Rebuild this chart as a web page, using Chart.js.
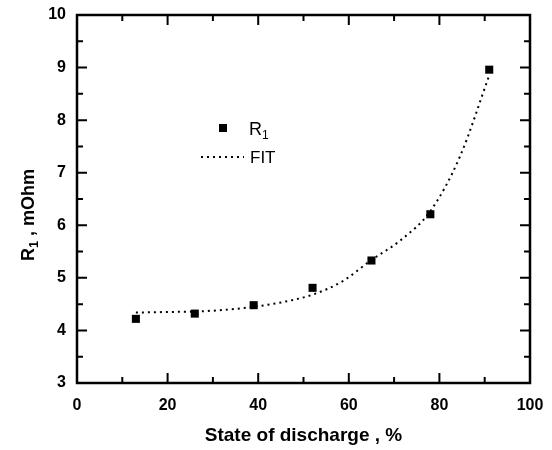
<!DOCTYPE html>
<html>
<head>
<meta charset="utf-8">
<script src="https://cdn.jsdelivr.net/npm/chart.js@4.4.1/dist/chart.umd.min.js"></script>
<style>
  html, body { margin: 0; padding: 0; background: #fff; }
  #wrap { width: 552px; height: 450px; }
</style>
</head>
<body>
<div id="wrap"><canvas id="r1Chart" width="552" height="450"></canvas></div>
<script>
// measured R1 vs state of discharge
const sod = [13, 26, 39, 52, 65, 78, 91];
const r1 = [4.22, 4.32, 4.48, 4.81, 5.33, 6.21, 8.96];

// fitted curve, read at regular steps
const fitX = [13, 19.5, 26, 32.5, 39, 45.5, 52, 58.5, 65, 71.5, 78, 84.5, 91];
const fitY = [4.34, 4.35, 4.36, 4.39, 4.45, 4.54, 4.68, 4.93, 5.34, 5.72, 6.27, 7.30, 8.85];

const xTicks = [0, 20, 40, 60, 80, 100];
const yTicks = [3, 4, 5, 6, 7, 8, 9, 10];

const FONT = '"Liberation Sans", Arial, sans-serif';

// frame with inward ticks on all four sides, plus the inner legend
const frame = {
  id: 'frame',
  afterDraw(chart) {
    const { ctx, chartArea: a, scales: { x, y } } = chart;
    ctx.save();
    ctx.strokeStyle = '#000';
    ctx.lineWidth = 2.5;
    ctx.strokeRect(a.left, a.top, a.right - a.left, a.bottom - a.top);

    ctx.lineWidth = 2;
    ctx.beginPath();
    for (let v = 10; v < 100; v += 10) {
      const px = x.getPixelForValue(v);
      const len = v % 20 === 0 ? 10 : 6;
      ctx.moveTo(px, a.bottom); ctx.lineTo(px, a.bottom - len);
      ctx.moveTo(px, a.top); ctx.lineTo(px, a.top + len);
    }
    for (let v = 3.5; v < 10; v += 0.5) {
      const py = y.getPixelForValue(v);
      const len = v % 1 === 0 ? 10 : 6;
      ctx.moveTo(a.left, py); ctx.lineTo(a.left + len, py);
      ctx.moveTo(a.right, py); ctx.lineTo(a.right - len, py);
    }
    ctx.stroke();

    // legend
    ctx.fillStyle = '#000';
    ctx.fillRect(219, 124, 8, 8);
    ctx.font = '18px ' + FONT;
    ctx.textBaseline = 'alphabetic';
    ctx.fillText('R', 249, 135);
    ctx.font = '12px ' + FONT;
    ctx.fillText('1', 262, 139);
    ctx.setLineDash([2, 4]);
    ctx.lineWidth = 2;
    ctx.beginPath();
    ctx.moveTo(201, 157); ctx.lineTo(244, 157);
    ctx.stroke();
    ctx.setLineDash([]);
    ctx.font = '17px ' + FONT;
    ctx.fillText('FIT', 250, 163);

    // axis titles
    ctx.font = 'bold 19px ' + FONT;
    ctx.textAlign = 'center';
    ctx.fillText('State of discharge , %', (a.left + a.right) / 2, 441);

    ctx.translate(34, 215);
    ctx.rotate(-Math.PI / 2);
    ctx.textAlign = 'left';
    const parts = [['R', 18, 0], ['1', 13, 4], [' , mOhm', 18, 0]];
    let w = 0;
    parts.forEach(([t, s]) => { ctx.font = 'bold ' + s + 'px ' + FONT; w += ctx.measureText(t).width; });
    let cx = -w / 2;
    parts.forEach(([t, s, dy]) => {
      ctx.font = 'bold ' + s + 'px ' + FONT;
      ctx.fillText(t, cx, dy);
      cx += ctx.measureText(t).width;
    });
    ctx.restore();
  }
};

// keep tick-label overhang from shrinking the plot box
const noOverhang = s => {
  s.paddingTop = 0; s.paddingBottom = 0;
  s.paddingLeft = 0; s.paddingRight = 0;
};

new Chart(document.getElementById('r1Chart'), {
  type: 'scatter',
  data: {
    datasets: [{
      label: 'R1',
      data: sod.map((v, i) => ({ x: v, y: r1[i] })),
      pointStyle: 'rect',
      pointRadius: 5.7,
      backgroundColor: '#000',
      borderColor: '#000',
      borderWidth: 0,
      order: 0
    }, {
      label: 'FIT',
      type: 'line',
      data: fitX.map((v, i) => ({ x: v, y: fitY[i] })),
      borderColor: '#000',
      borderWidth: 2,
      borderDash: [2, 4],
      pointRadius: 0,
      cubicInterpolationMode: 'monotone',
      fill: false,
      order: 1
    }]
  },
  options: {
    responsive: false,
    animation: false,
    events: [],
    layout: { padding: { left: 0, top: 15, right: 22, bottom: 0 } },
    plugins: { legend: { display: false }, tooltip: { enabled: false } },
    scales: {
      x: {
        type: 'linear',
        min: 0, max: 100,
        afterBuildTicks: s => { s.ticks = xTicks.map(v => ({ value: v })); },
        afterFit: s => { s.height = 67; noOverhang(s); },
        grid: { display: false, drawTicks: false },
        border: { display: false },
        ticks: { color: '#000', padding: 13, maxRotation: 0, font: { family: FONT, size: 16, weight: 'bold' } }
      },
      y: {
        type: 'linear',
        min: 3, max: 10,
        afterBuildTicks: s => { s.ticks = yTicks.map(v => ({ value: v })); },
        afterFit: s => { s.width = 77; noOverhang(s); },
        grid: { display: false, drawTicks: false },
        border: { display: false },
        ticks: { color: '#000', padding: 11, font: { family: FONT, size: 16, weight: 'bold' } }
      }
    }
  },
  plugins: [frame]
});
</script>
</body>
</html>
